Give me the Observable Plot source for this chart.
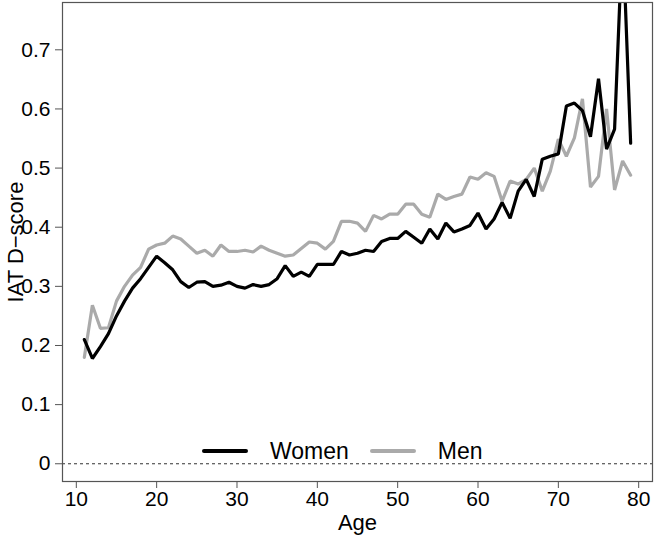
<!DOCTYPE html>
<html><head><meta charset="utf-8">
<script src="https://cdn.jsdelivr.net/npm/d3@7"></script>
<script src="https://cdn.jsdelivr.net/npm/@observablehq/plot@0.6"></script>
<style>
body{margin:0;background:#fff;}
#wrap{position:relative;width:656px;height:541px;font-family:"Liberation Sans",Arial,Helvetica,sans-serif;}
#legend{position:absolute;left:202px;top:437px;height:28px;display:flex;align-items:center;font-size:23px;color:#000;}
#legend .sw{display:inline-block;height:4px;width:46px;border-radius:2px;}
</style>
</head><body><div id="wrap"></div>
<script>
const ages = [11,12,13,14,15,16,17,18,19,20,21,22,23,24,25,26,27,28,29,30,31,32,33,34,35,36,37,38,39,40,41,42,43,44,45,46,47,48,49,50,51,52,53,54,55,56,57,58,59,60,61,62,63,64,65,66,67,68,69,70,71,72,73,74,75,76,77,78,79];
const women = [0.21,0.178,0.198,0.22,0.25,0.275,0.297,0.313,0.332,0.351,0.34,0.328,0.308,0.298,0.307,0.308,0.30,0.302,0.307,0.30,0.297,0.303,0.30,0.303,0.313,0.335,0.317,0.324,0.317,0.337,0.337,0.337,0.359,0.353,0.356,0.361,0.359,0.376,0.381,0.381,0.393,0.383,0.373,0.397,0.38,0.407,0.392,0.397,0.403,0.424,0.397,0.414,0.442,0.415,0.461,0.481,0.452,0.515,0.52,0.524,0.605,0.61,0.597,0.553,0.651,0.532,0.566,0.9,0.542];
const men = [0.18,0.268,0.229,0.23,0.275,0.30,0.319,0.332,0.363,0.37,0.373,0.385,0.38,0.368,0.356,0.361,0.351,0.37,0.359,0.359,0.361,0.358,0.368,0.361,0.356,0.351,0.353,0.364,0.375,0.373,0.363,0.376,0.41,0.41,0.407,0.393,0.42,0.414,0.422,0.422,0.439,0.439,0.422,0.417,0.456,0.447,0.452,0.456,0.485,0.481,0.492,0.486,0.444,0.478,0.473,0.481,0.5,0.461,0.495,0.549,0.52,0.551,0.617,0.468,0.486,0.6,0.463,0.512,0.488];
const xTicks = [10,20,30,40,50,60,70,80];
const yTicks = [0,0.1,0.2,0.3,0.4,0.5,0.6,0.7];
const seriesNames = ["Women","Men"];
const seriesColors = ["#000000","#aaaaaa"];
const xLabel = "Age";
const yLabel = "IAT D\u2212score";

const rows = [
  ...ages.map((a,i)=>({age:a, value:men[i], sex:"Men"})),
  ...ages.map((a,i)=>({age:a, value:women[i], sex:"Women"}))
];

const chart = Plot.plot({
  width:656, height:541,
  marginLeft:62, marginRight:4, marginTop:2, marginBottom:60,
  style:{fontFamily:'"Liberation Sans",Arial,Helvetica,sans-serif', background:"#fff", color:"#000"},
  x:{domain:[8.28,81.72]},
  y:{domain:[-0.03,0.78]},
  color:{domain:seriesNames, range:seriesColors},
  marks:[
    Plot.ruleY([0], {stroke:"#333", strokeWidth:1, strokeDasharray:"3,3"}),
    Plot.line(rows, {x:"age", y:"value", z:"sex", stroke:"sex", strokeWidth:3.2, clip:true, strokeLinejoin:"miter"}),
    Plot.frame({stroke:"#555", strokeWidth:1.2}),
    Plot.axisX(xTicks, {tickSize:7, tickPadding:3, fontSize:21, label:null, stroke:"#555", fill:"#000"}),
    Plot.axisY(yTicks, {tickSize:7, tickPadding:5, fontSize:21, label:null, stroke:"#555", fill:"#000", tickFormat:d=>d===0?"0":d.toFixed(1)}),
    Plot.text([yLabel], {text:d=>d, frameAnchor:"left", textAnchor:"middle", lineAnchor:"middle", dx:-47, rotate:-90, fontSize:22, fill:"#000"}),
    Plot.text([xLabel], {text:d=>d, frameAnchor:"bottom", textAnchor:"middle", lineAnchor:"middle", dy:41, fontSize:22, fill:"#000"})
  ]
});
const wrap = document.getElementById("wrap");
wrap.appendChild(chart);

const legend = document.createElement("div");
legend.id = "legend";
seriesNames.forEach((name,i)=>{
  const sw = document.createElement("span");
  sw.className = "sw";
  sw.style.background = seriesColors[i];
  sw.style.marginRight = "22px";
  if (i>0) sw.style.marginLeft = "21px";
  const t = document.createElement("span");
  t.textContent = name;
  legend.appendChild(sw);
  legend.appendChild(t);
});
wrap.appendChild(legend);
</script>
</body></html>
